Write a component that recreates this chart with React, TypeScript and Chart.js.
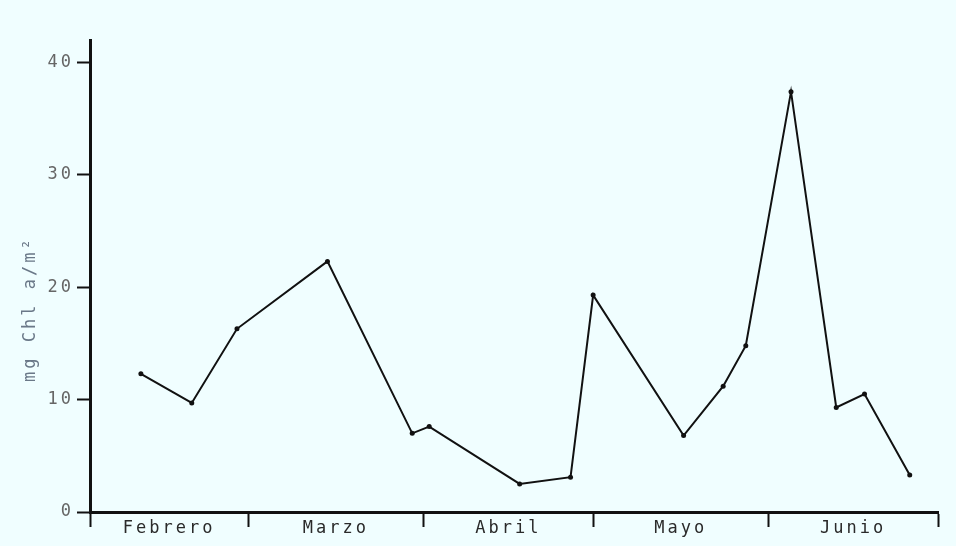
import { useEffect, useRef } from 'react';
import { Chart, registerables } from 'chart.js';

Chart.register(...registerables);

// Sampling day (days counted from 1 February) and chlorophyll a values
const sampleDays = [9, 18, 26, 42, 57, 60, 76, 85, 89, 105, 112, 116, 124, 132, 137, 145];
const chlValues = [12.3, 9.7, 16.3, 22.3, 7.0, 7.6, 2.5, 3.1, 19.3, 6.8, 11.2, 14.8, 37.4, 9.3, 10.5, 3.3];

// Months on the x axis and their boundaries (days from 1 February)
const monthNames = ['Febrero', 'Marzo', 'Abril', 'Mayo', 'Junio'];
const monthBoundaryDays = [0, 28, 59, 89, 120, 150];

// Y axis ticks
const yTickValues = [0, 10, 20, 30, 40];
const yTickLabels = ['0', '10', '20', '30', '40'];
const yAxisTitle = 'mg Chl a/m²';

const BG = 'rgb(240, 254, 255)';
const FONT = "'DejaVu Sans Mono', 'Liberation Mono', monospace";

const monthMidDays = monthNames.map((_, i) => (monthBoundaryDays[i] + monthBoundaryDays[i + 1]) / 2);

const letterSpacingPlugin = {
  id: 'letterSpacing',
  beforeUpdate(chart: any) {
    chart.ctx.letterSpacing = '3px';
  },
  beforeDraw(chart: any) {
    chart.ctx.letterSpacing = '3px';
  },
};

export default function App() {
  const canvasRef = useRef<HTMLCanvasElement | null>(null);

  useEffect(() => {
    document.body.style.margin = '0';
    document.body.style.background = BG;
    const canvas = canvasRef.current;
    if (!canvas) return;

    const chart = new Chart(canvas, {
      type: 'line',
      data: {
        datasets: [
          {
            data: sampleDays.map((d, i) => ({ x: d, y: chlValues[i] })),
            borderColor: '#111',
            backgroundColor: '#111',
            borderWidth: 2,
            pointRadius: 2.5,
            pointBorderWidth: 0,
            pointBackgroundColor: '#111',
            tension: 0,
            fill: false,
          },
        ],
      },
      plugins: [letterSpacingPlugin],
      options: {
        animation: false,
        responsive: false,
        clip: false,
        layout: { padding: { top: 40, right: 18, left: 0, bottom: 0 } },
        plugins: {
          legend: { display: false },
          tooltip: { enabled: false },
        },
        scales: {
          x: {
            type: 'linear',
            min: monthBoundaryDays[0],
            max: monthBoundaryDays[monthBoundaryDays.length - 1],
            afterBuildTicks: (scale: any) => {
              const vals = [...monthBoundaryDays, ...monthMidDays].sort((a, b) => a - b);
              scale.ticks = vals.map((v) => ({ value: v }));
            },
            afterFit: (scale: any) => {
              scale.height = 34;
            },
            grid: {
              drawOnChartArea: false,
              drawTicks: true,
              tickLength: 15,
              tickWidth: 2,
              tickColor: (ctx: any) =>
                ctx.tick && monthBoundaryDays.includes(ctx.tick.value) ? '#111' : 'rgba(0,0,0,0)',
            },
            border: { display: true, width: 3, color: '#111' },
            ticks: {
              autoSkip: false,
              maxRotation: 0,
              minRotation: 0,
              padding: -9,
              color: '#2a2a2a',
              font: { family: FONT, size: 17 },
              callback: (value: any) => {
                const idx = monthMidDays.indexOf(Number(value));
                return idx >= 0 ? monthNames[idx] : '';
              },
            },
          },
          y: {
            type: 'linear',
            min: 0,
            max: 42,
            afterBuildTicks: (scale: any) => {
              scale.ticks = yTickValues.map((v) => ({ value: v }));
            },
            afterFit: (scale: any) => {
              scale.width = 90;
            },
            grid: {
              drawOnChartArea: false,
              drawTicks: true,
              tickLength: 13,
              tickWidth: 2,
              tickColor: '#111',
            },
            border: { display: true, width: 3, color: '#111' },
            ticks: {
              padding: 3,
              color: '#666',
              font: { family: FONT, size: 17 },
              callback: (value: any) => {
                const idx = yTickValues.indexOf(Number(value));
                return idx >= 0 ? yTickLabels[idx] : '';
              },
            },
            title: {
              display: true,
              text: yAxisTitle + '     ',
              color: '#6a7888',
              font: { family: FONT, size: 17 },
              padding: { top: 20, bottom: 0 },
            },
          },
        },
      },
    } as any);

    return () => {
      chart.destroy();
    };
  }, []);

  return (
    <div style={{ width: 956, height: 546, background: BG }}>
      <canvas ref={canvasRef} width={956} height={546} style={{ display: 'block' }} />
    </div>
  );
}
